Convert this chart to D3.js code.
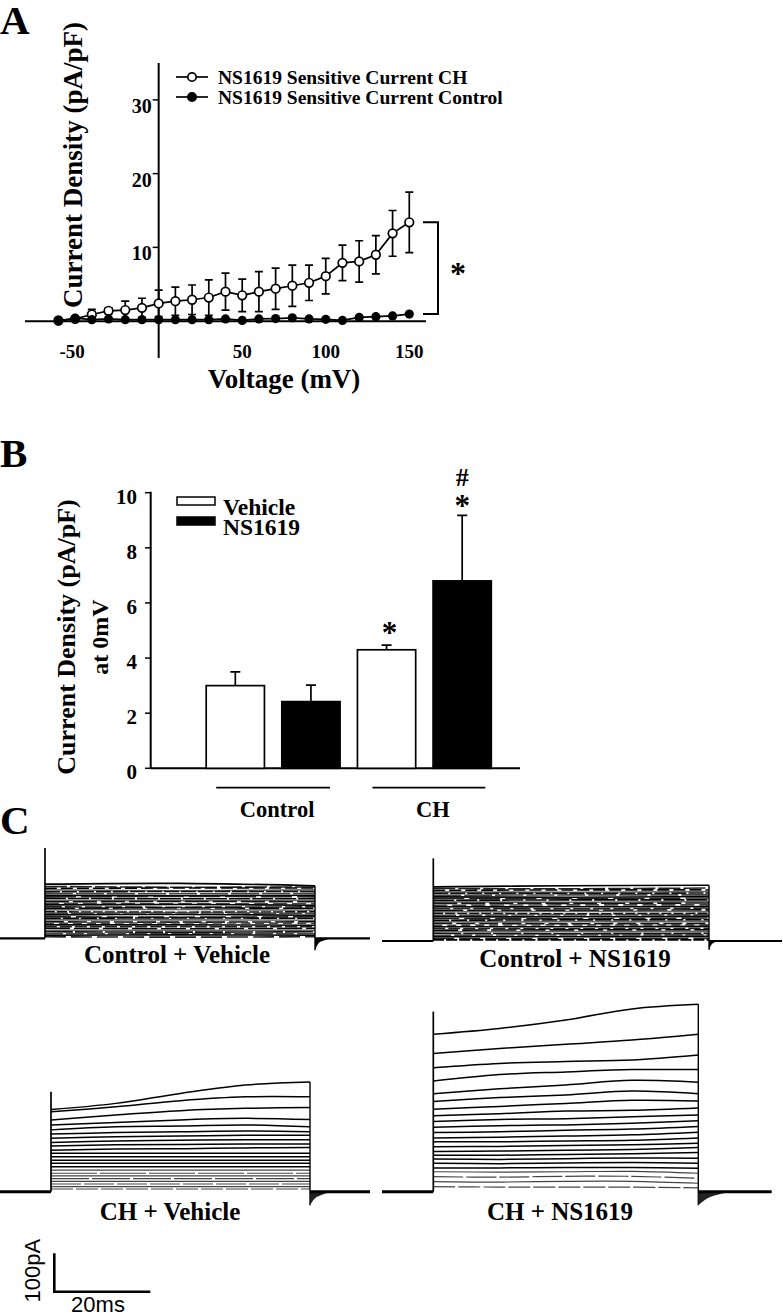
<!DOCTYPE html>
<html>
<head>
<meta charset="utf-8">
<script src="https://cdn.jsdelivr.net/npm/d3@7"></script>
<style>
body { margin: 0; background: #fff; }
svg text { font-family: "Liberation Serif", "Times New Roman", serif; font-weight: bold; fill: #000; }
svg text.sans { font-family: "Liberation Sans", Arial, sans-serif; font-weight: normal; }
</style>
</head>
<body>
<div id="fig"></div>
<script>
// ---------- panel A : I-V curves ----------
var voltages = [-60,-50,-40,-30,-20,-10,0,10,20,30,40,50,60,70,80,90,100,110,120,130,140,150];
var chMean   = [0.1,0.3,0.9,1.4,1.5,1.8,2.4,2.7,2.9,3.2,4.0,3.5,4.0,4.4,4.8,5.2,6.1,7.9,8.1,9.0,11.9,13.4];
var chErr    = [0,0.2,0.7,0.4,1.2,1.3,1.8,1.9,2.0,2.4,2.5,2.2,2.7,2.8,2.8,2.4,2.4,2.4,2.8,2.6,3.1,4.1];
var ctrlMean = [0.0,0.4,0.2,0.3,0.2,0.2,0.2,0.2,0.2,0.2,0.3,0.1,0.3,0.35,0.45,0.3,0.25,0.1,0.5,0.6,0.7,0.95];
var xTicksA = [-50,50,100,150];
var yTicksA = [10,20,30];
var seriesA = ["NS1619 Sensitive Current CH", "NS1619 Sensitive Current Control"];

// ---------- panel B : bars at 0 mV ----------
var groupsB = ["Control","CH"];
var treatB  = ["Vehicle","NS1619"];
var meanB   = [[3.0, 2.42], [4.3, 6.8]];
var semB    = [[0.5, 0.6], [0.17, 2.38]];
var yTicksB = [0,2,4,6,8,10];

// ---------- panel C : current traces (pA above holding level) ----------
var ctrlVehTraces = [[141,143,137],[135,133,134],[130,131,131],[126,124,126],[121,122,122],[117,116,117],
  [112,111,112],[108,109,108],[104,103,103],[99,98,99],[95,96,95],[91,90,90],[87,88,86],[82,81,82],
  [78,79,78],[74,75,73],[69,68,69],[65,66,65],[61,62,60],[56,55,56],[52,53,52],[48,48,47],[43,42,43],
  [39,40,39],[35,35,34],[30,30,30],[26,25,26],[21,21,21],[17,16,17],[12,12,12],[8,9,8],[4,3,4]];
var ctrlNsTraces = [[141,144,145],[137,136,138],[132,133,133],[128,127,129],[124,124,125],[119,120,120],
  [115,114,116],[111,111,112],[106,107,107],[102,101,103],[98,98,99],[93,94,94],[89,89,90],[85,84,86],
  [80,80,81],[76,77,77],[72,71,72],[67,68,68],[63,63,64],[59,58,60],[54,55,55],[50,50,51],[46,45,46],
  [41,42,42],[37,37,38],[33,32,33],[28,29,29],[24,24,25],[20,19,20],[15,16,16],[11,11,12],[7,6,7],[3,3,3]];
var chVehTraces = [[214,230,256,278,286],[208,221,237,247,247],[187,200,211,217,219],[174,180,187,191,188],
  [161,169,171,174,169],[150,154,156,158,156],[139,143,145,147,147],[128,132,134,135,135],
  [119,122,123,124,124],[108,111,112,114,115],[100,100],[91,91],[82,82],[74,74],[65,65],[56,56],
  [48,48],[41,41],[34,34],[27,27],[20,20],[13,13],[7,7]];
var chNsTraces = [[410,425,447,476,488],[360,373,384,395,410],[323,334,339,343,356],[288,305,312,318,318],
  [255,268,278,290,285],[235,245,252,262,255],[215,222,230,238,236],[198,203,210,212,218],
  [183,188,190,195,200],[168,172,174,178,185],[154,156,160,163,170],[140,142,145,148,155],
  [130,130,132,134,140],[117,118,120,122,126],[105,106,108,110,115],[95,95,97,99,102],
  [85,84,86,88,87],[74,73,75,76,74],[62,62,63,63,61],[52,51,52,53,48],[39,38,40,40,35],
  [26,25,27,27,22],[13,12,12,12,10]];
var spikes = [235, 215, 260, 469];
// tail currents after the step: [ms after step end, pA]
var tailCV = [[0,-31],[0.8,-12],[2,-5],[3.8,0]];
var tailCN = [[0,-23],[0.6,-8],[1.2,-3],[2,0]];
var tailHV = [[0,-35],[1,-18],[2.5,-8],[4.8,0]];
var tailHN = [[0,-35],[1.5,-20],[4,-8],[8,0]];
var scaleBar = {pA: 100, ms: 20};

var W = 783, H = 1316;
var svg = d3.select("#fig").append("svg").attr("width", W).attr("height", H);
svg.append("rect").attr("width", W).attr("height", H).attr("fill", "#fff");

// panel letters
[["A", 34], ["B", 467], ["C", 834]].forEach(function(p) {
  svg.append("text").attr("x", 0).attr("y", p[1]).style("font-size", "41px").text(p[0]);
});

// ================= A =================
var xA = d3.scaleLinear().domain([-80, 160]).range([25, 426]);
var yA = d3.scaleLinear().domain([-5, 35]).range([358, 63]);
var gA = svg.append("g");

gA.append("line").attr("x1", xA(-80)).attr("x2", xA(160)).attr("y1", yA(0)).attr("y2", yA(0))
  .attr("stroke", "#000").attr("stroke-width", 2);
gA.append("line").attr("x1", xA(0)).attr("x2", xA(0)).attr("y1", yA(-5)).attr("y2", yA(35))
  .attr("stroke", "#000").attr("stroke-width", 2);

yTicksA.forEach(function(t) {
  gA.append("line").attr("x1", xA(0) - 6).attr("x2", xA(0)).attr("y1", yA(t)).attr("y2", yA(t))
    .attr("stroke", "#000").attr("stroke-width", 1.5);
  gA.append("text").attr("x", xA(0) - 7).attr("y", yA(t) + 13).attr("text-anchor", "end")
    .style("font-size", "20px").text(t);
});
xTicksA.forEach(function(t) {
  gA.append("text").attr("x", xA(t) - (t < 0 ? 3 : 0)).attr("y", yA(0) + 37).attr("text-anchor", "middle")
    .style("font-size", "19px").text(t);
});
gA.append("text").attr("x", 284).attr("y", 388).attr("text-anchor", "middle")
  .style("font-size", "27px").text("Voltage (mV)");
gA.append("text").attr("transform", "translate(82,165) rotate(-90)").attr("text-anchor", "middle")
  .style("font-size", "27px").text("Current Density (pA/pF)");

var ptsCH = voltages.map(function(v, i) { return {v: v, m: chMean[i], e: chErr[i]}; });
var ptsCtrl = voltages.map(function(v, i) { return {v: v, m: ctrlMean[i]}; });
var lineA = d3.line().x(function(d) { return xA(d.v); }).y(function(d) { return yA(d.m); });

// error bars (CH)
ptsCH.filter(function(d) { return d.e > 0; }).forEach(function(d) {
  var x = xA(d.v);
  gA.append("path")
    .attr("d", "M" + x + "," + yA(d.m - d.e) + "V" + yA(d.m + d.e) +
      "M" + (x - 4) + "," + yA(d.m + d.e) + "H" + (x + 4) +
      "M" + (x - 4) + "," + yA(d.m - d.e) + "H" + (x + 4))
    .attr("stroke", "#000").attr("stroke-width", 1.7).attr("fill", "none");
});
gA.append("path").attr("d", lineA(ptsCH)).attr("fill", "none").attr("stroke", "#000").attr("stroke-width", 1.7);
gA.selectAll("circle.ch").data(ptsCH).enter().append("circle").attr("class", "ch")
  .attr("cx", function(d) { return xA(d.v); }).attr("cy", function(d) { return yA(d.m); })
  .attr("r", 4.3).attr("fill", "#fff").attr("stroke", "#000").attr("stroke-width", 1.7);
gA.append("path").attr("d", lineA(ptsCtrl)).attr("fill", "none").attr("stroke", "#000").attr("stroke-width", 1.7);
gA.selectAll("circle.ct").data(ptsCtrl).enter().append("circle").attr("class", "ct")
  .attr("cx", function(d) { return xA(d.v); }).attr("cy", function(d) { return yA(d.m); })
  .attr("r", 4.6).attr("fill", "#000");

// significance bracket
var yTop = yA(chMean[chMean.length - 1]), yBot = yA(ctrlMean[ctrlMean.length - 1]);
gA.append("path").attr("d", "M423," + yTop + "H438V" + yBot + "H423")
  .attr("fill", "none").attr("stroke", "#000").attr("stroke-width", 2);
gA.append("text").attr("x", 458).attr("y", (yTop + yBot) / 2 + 16).attr("text-anchor", "middle")
  .style("font-size", "32px").text("*");

// legend
seriesA.forEach(function(s, i) {
  var ly = 77 + i * 20;
  gA.append("line").attr("x1", 176).attr("x2", 208).attr("y1", ly).attr("y2", ly)
    .attr("stroke", "#000").attr("stroke-width", 1.7);
  gA.append("circle").attr("cx", 192).attr("cy", ly).attr("r", 4.2)
    .attr("fill", i === 0 ? "#fff" : "#000").attr("stroke", "#000").attr("stroke-width", 1.7);
  gA.append("text").attr("x", 218).attr("y", ly + 6.5).style("font-size", "19.5px").text(s);
});

// ================= B =================
var yB = d3.scaleLinear().domain([0, 10]).range([768.3, 492.7]);
var keysB = [];
groupsB.forEach(function(g, gi) { treatB.forEach(function(t, ti) {
  keysB.push({g: g, t: t, gi: gi, ti: ti, m: meanB[gi][ti], e: semB[gi][ti], k: g + "|" + t});
}); });
var xB = d3.scaleBand().domain(keysB.map(function(d) { return d.k; }))
  .range([197.5, 500]).paddingInner(0.23).paddingOuter(0.115);
var gB = svg.append("g");

gB.append("line").attr("x1", 150.7).attr("x2", 520).attr("y1", yB(0)).attr("y2", yB(0))
  .attr("stroke", "#000").attr("stroke-width", 2);
gB.append("line").attr("x1", 150.7).attr("x2", 150.7).attr("y1", yB(0)).attr("y2", yB(10) - 1)
  .attr("stroke", "#000").attr("stroke-width", 2);
yTicksB.forEach(function(t) {
  gB.append("line").attr("x1", 145).attr("x2", 150.7).attr("y1", yB(t)).attr("y2", yB(t))
    .attr("stroke", "#000").attr("stroke-width", 1.5);
  gB.append("text").attr("x", 137).attr("y", yB(t) + 11).attr("text-anchor", "end")
    .style("font-size", "21px").text(t);
});

keysB.forEach(function(d) {
  var x = xB(d.k), bw = xB.bandwidth(), cx = x + bw / 2;
  gB.append("path").attr("d", "M" + cx + "," + yB(d.m) + "V" + yB(d.m + d.e) + "M" + (cx - 5) + "," + yB(d.m + d.e) + "H" + (cx + 5))
    .attr("stroke", "#000").attr("stroke-width", 1.7).attr("fill", "none");
  gB.append("rect").attr("x", x).attr("y", yB(d.m)).attr("width", bw).attr("height", yB(0) - yB(d.m))
    .attr("fill", d.ti === 0 ? "#fff" : "#000").attr("stroke", "#000").attr("stroke-width", 1.7);
});

// significance marks
var hv = keysB[2], hn = keysB[3];
gB.append("text").attr("x", xB(hv.k) + xB.bandwidth() / 2 + 3).attr("y", yB(hv.m + hv.e) - 2)
  .attr("text-anchor", "middle").style("font-size", "31px").text("*");
gB.append("text").attr("x", xB(hn.k) + xB.bandwidth() / 2).attr("y", yB(hn.m + hn.e) + 1)
  .attr("text-anchor", "middle").style("font-size", "31px").text("*");
gB.append("text").attr("x", xB(hn.k) + xB.bandwidth() / 2).attr("y", yB(hn.m + hn.e) - 29)
  .attr("text-anchor", "middle").style("font-size", "26px").text("#");

// group underlines and labels
groupsB.forEach(function(g, gi) {
  var a = xB(g + "|" + treatB[0]) + 10 + gi * 5, b = xB(g + "|" + treatB[1]) + xB.bandwidth() - 10 + gi * 4;
  gB.append("line").attr("x1", a).attr("x2", b).attr("y1", 787.7).attr("y2", 787.7)
    .attr("stroke", "#000").attr("stroke-width", 1.7);
  gB.append("text").attr("x", (a + b) / 2 + 4).attr("y", 817).attr("text-anchor", "middle")
    .style("font-size", "22.5px").text(g);
});

// legend
treatB.forEach(function(t, i) {
  gB.append("rect").attr("x", 177).attr("y", 497 + i * 20).attr("width", 38).attr("height", 8)
    .attr("fill", i === 0 ? "#fff" : "#000").attr("stroke", "#000").attr("stroke-width", 1.5);
  gB.append("text").attr("x", 223).attr("y", 515 + i * 20).style("font-size", "23.5px").text(t);
});

gB.append("text").attr("transform", "translate(75,637) rotate(-90)").attr("text-anchor", "middle")
  .style("font-size", "26px").text("Current Density (pA/pF)");
gB.append("text").attr("transform", "translate(108,637) rotate(-90)").attr("text-anchor", "middle")
  .style("font-size", "24px").text("at 0mV");

// ================= C =================
var pxPerPA = 38.4 / 100, pxPerMs = 96 / 20;
var panelsC = [
  {label: "Control + Vehicle", traces: ctrlVehTraces, spike: spikes[0], tail: tailCV,
   left: 0, on: 45, off: 315, right: 370, base: 938.3, lx: 177, ly: 963, dense: true},
  {label: "Control + NS1619", traces: ctrlNsTraces, spike: spikes[1], tail: tailCN,
   left: 382, on: 433.3, off: 709, right: 782, base: 941, lx: 575, ly: 967, dense: true},
  {label: "CH + Vehicle", traces: chVehTraces, spike: spikes[2], tail: tailHV,
   left: 0, on: 51, off: 310, right: 370, base: 1191.7, lx: 170, ly: 1220, dense: false},
  {label: "CH + NS1619", traces: chNsTraces, spike: spikes[3], tail: tailHN,
   left: 382, on: 433.3, off: 698.3, right: 771.7, base: 1191.7, lx: 560, ly: 1220, dense: false}
];
var gC = svg.append("g");
var shades = ["#000", "#222", "#000", "#666", "#111", "#444"];

panelsC.forEach(function(p) {
  var y = d3.scaleLinear().domain([0, 100]).range([p.base, p.base - 100 * pxPerPA]);
  var g = gC.append("g");

  p.traces.forEach(function(tr, i) {
    var x = d3.scaleLinear().domain([0, tr.length - 1]).range([p.on, p.off]);
    var ln = d3.line().x(function(d, j) { return x(j); }).y(function(d) { return y(d); })
      .curve(d3.curveCatmullRom);
    var col, sw, dash = null;
    if (p.dense) {
      col = shades[i % shades.length];
      sw = 1.6;
      if (i % 3 !== 0) dash = (9 + (i * 13) % 23) + " " + (2 + (i * 5) % 4);
    } else {
      col = tr[0] < 60 ? "#444" : "#000";
      sw = tr[0] < 60 ? 1.2 : 1.5;
      if (tr[0] < 60 && i % 2 === 0) dash = (20 + (i * 11) % 30) + " 3";
    }
    g.append("path").attr("d", ln(tr)).attr("fill", "none").attr("stroke", col)
      .attr("stroke-width", sw).attr("stroke-dasharray", dash);
  });

  // onset capacitive transient and step edges
  g.append("line").attr("x1", p.on).attr("x2", p.on).attr("y1", p.base).attr("y2", y(p.spike))
    .attr("stroke", "#000").attr("stroke-width", 1.7);
  var endTop = d3.max(p.traces, function(t) { return t[t.length - 1]; });
  g.append("line").attr("x1", p.off).attr("x2", p.off).attr("y1", y(endTop)).attr("y2", y(p.tail[0][1]))
    .attr("stroke", "#000").attr("stroke-width", 1.4);

  // tail current
  var tailArea = d3.area().x(function(d) { return p.off + d[0] * pxPerMs; })
    .y0(y(0)).y1(function(d) { return y(d[1]); }).curve(d3.curveMonotoneX);
  g.append("path").attr("d", tailArea(p.tail)).attr("fill", p.dense ? "#000" : "#222");

  // holding baseline
  g.append("path").attr("d", "M" + p.left + "," + y(0) + "H" + p.on + "M" + p.off + "," + y(0) + "H" + p.right)
    .attr("stroke", "#000").attr("stroke-width", p.dense ? 2.2 : 3).attr("fill", "none");

  g.append("text").attr("x", p.lx).attr("y", p.ly).attr("text-anchor", "middle")
    .style("font-size", "25px").text(p.label);
});

// scale bar
var sbX = 54.3, sbY = 1291.7;
gC.append("path").attr("d", "M" + sbX + "," + (sbY - scaleBar.pA * pxPerPA) + "V" + sbY + "H" + (sbX + scaleBar.ms * pxPerMs))
  .attr("fill", "none").attr("stroke", "#000").attr("stroke-width", 2.6);
gC.append("text").attr("class", "sans").attr("transform", "translate(40," + (sbY - 21) + ") rotate(-90)")
  .attr("text-anchor", "middle").style("font-size", "22px").text(scaleBar.pA + "pA");
gC.append("text").attr("class", "sans").attr("x", 98).attr("y", 1312).attr("text-anchor", "middle")
  .style("font-size", "22px").text(scaleBar.ms + "ms");
</script>
</body>
</html>
